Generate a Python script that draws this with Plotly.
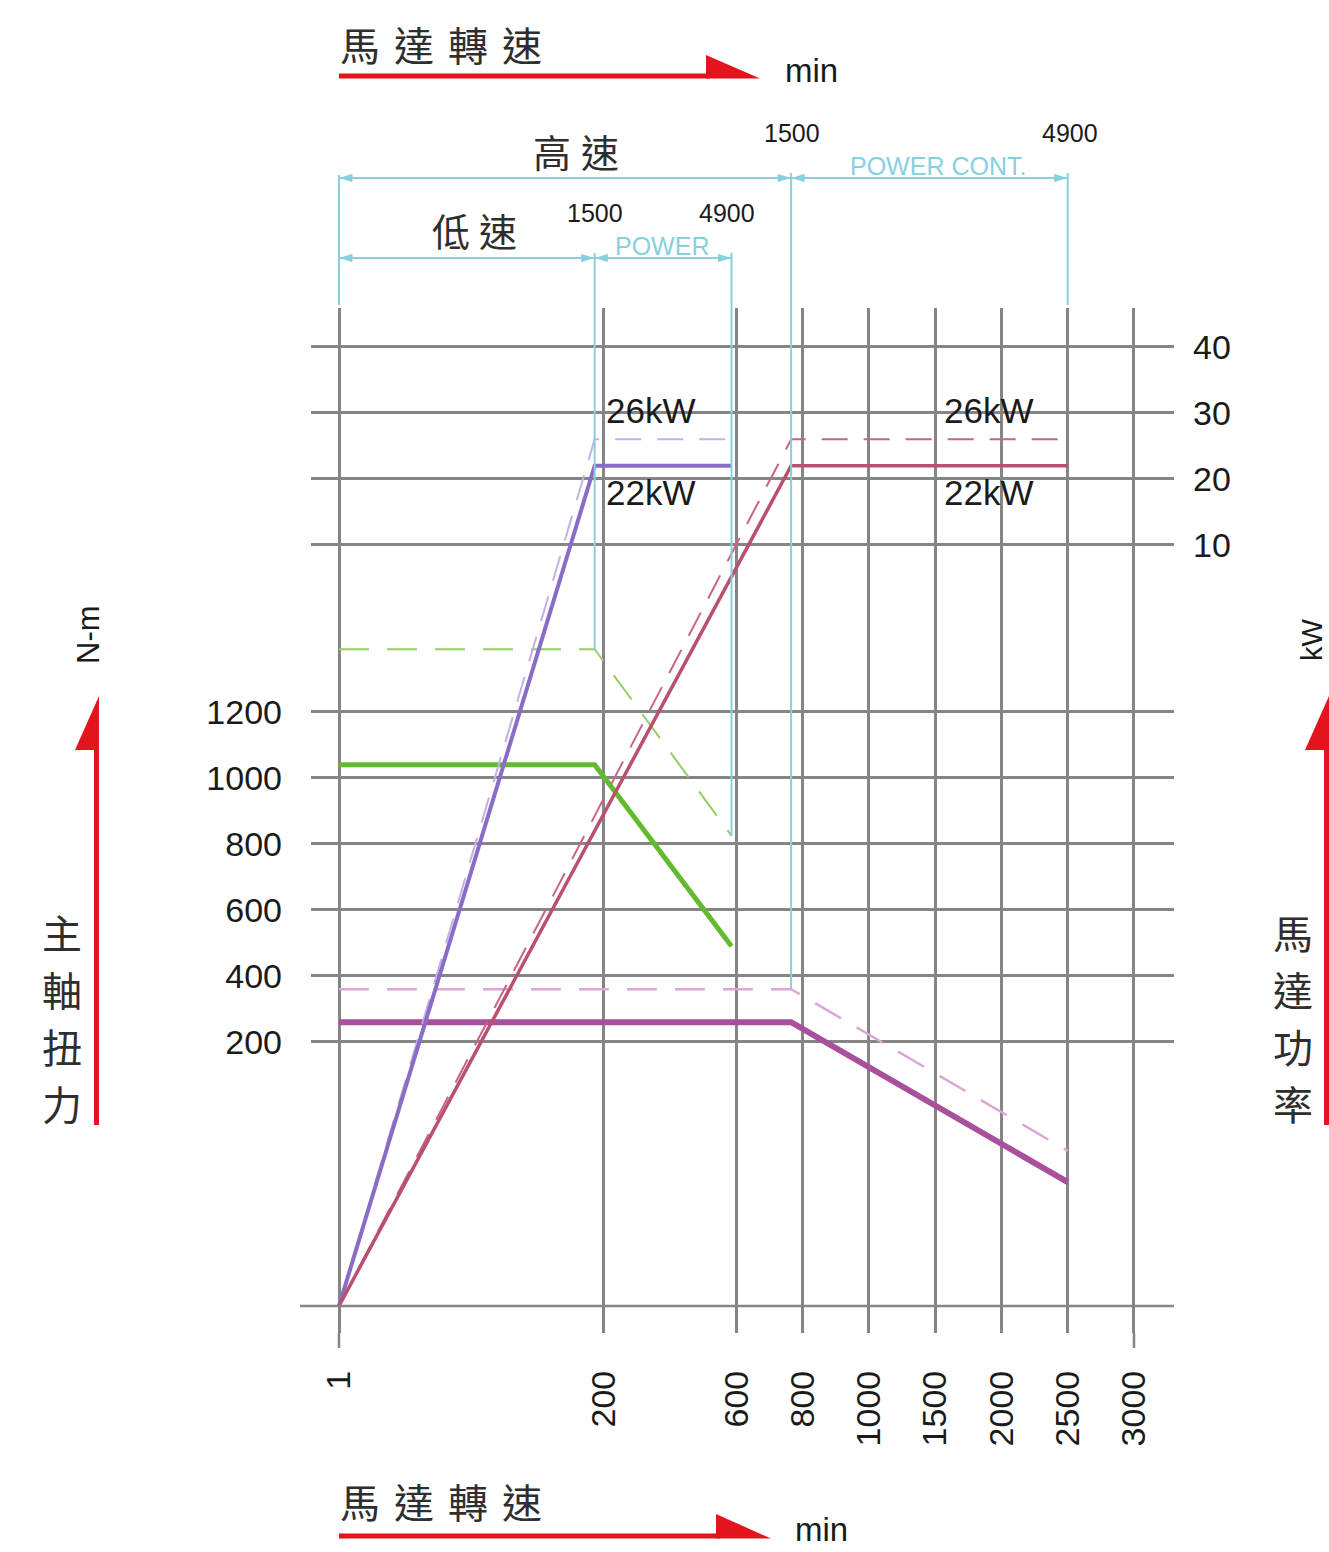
import numpy as np
import plotly.graph_objects as go

# ---------------- data ----------------
speed_tick_labels = ["1", "200", "600", "800", "1000", "1500", "2000", "2500", "3000"]
speed_tick_rpm = [1, 200, 600, 800, 1000, 1500, 2000, 2500, 3000]
speed_tick_slot = [0, 4, 6, 7, 8, 9, 10, 11, 12]          # equally spaced chart columns
torque_ticks = [200, 400, 600, 800, 1000, 1200]            # N-m (left)
power_ticks = [10, 20, 30, 40]                              # kW (right)

low_gear_rpm = [1, 193, 585]      # spindle rpm: start, base speed (motor 1500), max (motor 4900)
high_gear_rpm = [1, 765, 2500]

low_power_cont = [22, 22]         # kW beyond base speed
low_power_peak = [26, 26]
high_power_cont = [22, 22]
high_power_peak = [26, 26]

low_torque_cont = [1040, 1040, 490]     # N-m
low_torque_peak = [1390, 1390, 825]
high_torque_cont = [260, 260, -225]
high_torque_peak = [360, 360, -130]

motor_speed_labels = ["1500", "4900"]

# ---------------- scales ----------------
TORQUE_RANGE = [-682.0, 2424.0]
POWER_RANGE = [-109.4, 45.9]
TORQUE_BASELINE = -600.0          # level of the speed axis line
X_RANGE = [-0.4226, 12.604]


def slot(rpm):
    return np.interp(rpm, speed_tick_rpm, speed_tick_slot)


def torque_to_power(t):
    f = (t - TORQUE_RANGE[0]) / (TORQUE_RANGE[1] - TORQUE_RANGE[0])
    return POWER_RANGE[0] + f * (POWER_RANGE[1] - POWER_RANGE[0])


POWER_BASELINE = torque_to_power(TORQUE_BASELINE)

W, H = 1329, 1552
PL, PR, PT, PB = 311, 1174, 308, 1333


def px_x(p):
    return (p - PL) / (PR - PL)


def px_y(p):
    return (PB - p) / (PB - PT)


def slot_paper(s):
    return (s - X_RANGE[0]) / (X_RANGE[1] - X_RANGE[0])


def rpm_paper(r):
    return slot_paper(slot(r))


def torque_paper(t):
    return (t - TORQUE_RANGE[0]) / (TORQUE_RANGE[1] - TORQUE_RANGE[0])


GRID = "#858585"
CYAN = "#88cfe0"
RED = "#e3141e"
GREEN = "#62bb2e"
GREEN_D = "#93cf66"
PURPLE = "#8a6cc6"
PURPLE_D = "#c4b0e6"
CRIMSON = "#b9506e"
CRIMSON_D = "#c96482"
MAGENTA = "#a8509c"
MAGENTA_D = "#dba8d6"
TXT = "#1a1a1a"
LAT = "Liberation Sans, Arial, sans-serif"
CJK = "Noto Sans CJK TC"

fig = go.Figure()

# torque curves (left axis)
fig.add_trace(go.Scatter(x=slot(low_gear_rpm), y=low_torque_peak, mode="lines",
                         line=dict(color=GREEN_D, width=2, dash="30px,18px")))
fig.add_trace(go.Scatter(x=slot(low_gear_rpm), y=low_torque_cont, mode="lines",
                         line=dict(color=GREEN, width=5)))
fig.add_trace(go.Scatter(x=slot(high_gear_rpm), y=high_torque_peak, mode="lines",
                         line=dict(color=MAGENTA_D, width=2.5, dash="30px,18px")))
fig.add_trace(go.Scatter(x=slot(high_gear_rpm), y=high_torque_cont, mode="lines",
                         line=dict(color=MAGENTA, width=6)))
# power curves (right axis)
fig.add_trace(go.Scatter(x=slot(low_gear_rpm), y=[POWER_BASELINE] + low_power_peak, mode="lines",
                         yaxis="y2", line=dict(color=PURPLE_D, width=2, dash="26px,16px")))
fig.add_trace(go.Scatter(x=slot(low_gear_rpm), y=[POWER_BASELINE] + low_power_cont, mode="lines",
                         yaxis="y2", line=dict(color=PURPLE, width=4)))
fig.add_trace(go.Scatter(x=slot(high_gear_rpm), y=[POWER_BASELINE] + high_power_peak, mode="lines",
                         yaxis="y2", line=dict(color=CRIMSON_D, width=2, dash="26px,16px")))
fig.add_trace(go.Scatter(x=slot(high_gear_rpm), y=[POWER_BASELINE] + high_power_cont, mode="lines",
                         yaxis="y2", line=dict(color=CRIMSON, width=3.5)))

shapes = []
# speed axis line
yb = torque_paper(TORQUE_BASELINE)
shapes.append(dict(type="line", xref="paper", yref="paper", x0=px_x(300), x1=1, y0=yb, y1=yb,
                   line=dict(color=GRID, width=2.5)))
# longer end gridlines
for s in (speed_tick_slot[0], speed_tick_slot[-1]):
    shapes.append(dict(type="line", xref="paper", yref="paper", x0=slot_paper(s), x1=slot_paper(s),
                       y0=0, y1=px_y(1348), line=dict(color=GRID, width=2.5)))

# cyan dimension lines
xl = rpm_paper(low_gear_rpm[0])
xlb = rpm_paper(low_gear_rpm[1])
xlm = rpm_paper(low_gear_rpm[2])
xhb = rpm_paper(high_gear_rpm[1])
xhm = rpm_paper(high_gear_rpm[2])
verticals = [
    (xl, px_y(175), px_y(305)),
    (xlb, px_y(253), torque_paper(low_torque_peak[1])),
    (xlm, px_y(253), torque_paper(low_torque_peak[2])),
    (xhb, px_y(173), torque_paper(high_torque_peak[1])),
    (xhm, px_y(173), px_y(305)),
]
for x, y0, y1 in verticals:
    shapes.append(dict(type="line", xref="paper", yref="paper", x0=x, x1=x, y0=y0, y1=y1,
                       line=dict(color=CYAN, width=2)))

ppx = 1.0 / (PR - PL)
ppy = 1.0 / (PB - PT)


def dim_line(xa, xb, ypix):
    y = px_y(ypix)
    shapes.append(dict(type="line", xref="paper", yref="paper", x0=xa, x1=xb, y0=y, y1=y,
                       line=dict(color=CYAN, width=2)))
    L, Wd = 11 * ppx, 3.5 * ppy
    for tip, d in ((xa + 2 * ppx, 1), (xb - 2 * ppx, -1)):
        path = f"M {tip},{y} L {tip + d * L},{y + Wd} L {tip + d * L},{y - Wd} Z"
        shapes.append(dict(type="path", xref="paper", yref="paper", path=path,
                           fillcolor=CYAN, line=dict(color=CYAN, width=1)))


dim_line(xl, xhb, 178)
dim_line(xhb, xhm, 178)
dim_line(xl, xlb, 258)
dim_line(xlb, xlm, 258)


# red axis arrows
def poly(points):
    s = "M " + " L ".join(f"{px_x(a)},{px_y(b)}" for a, b in points) + " Z"
    return dict(type="path", xref="paper", yref="paper", path=s, fillcolor=RED,
                line=dict(color=RED, width=0))


def hline_px(x0, x1, y, w):
    return dict(type="line", xref="paper", yref="paper", x0=px_x(x0), x1=px_x(x1),
                y0=px_y(y), y1=px_y(y), line=dict(color=RED, width=w))


def vline_px(x, y0, y1, w):
    return dict(type="line", xref="paper", yref="paper", x0=px_x(x), x1=px_x(x),
                y0=px_y(y0), y1=px_y(y1), line=dict(color=RED, width=w))


shapes.append(hline_px(339, 710, 76, 5))
shapes.append(poly([(706, 55), (760, 78.5), (706, 78.5)]))
shapes.append(hline_px(339, 720, 1536, 5))
shapes.append(poly([(716, 1514), (771, 1538.5), (716, 1538.5)]))
shapes.append(vline_px(96.5, 745, 1125, 5))
shapes.append(poly([(99, 696), (99, 750), (75, 750)]))
shapes.append(vline_px(1326.5, 745, 1125, 5))
shapes.append(poly([(1329, 696), (1329, 750), (1305, 750)]))

annotations = []


def text(x, y, t, size, color=TXT, family=LAT, xanchor="center", angle=0):
    annotations.append(dict(x=px_x(x), y=px_y(y), xref="paper", yref="paper", text=t,
                            showarrow=False, xanchor=xanchor, yanchor="middle", textangle=angle,
                            font=dict(size=size, color=color, family=family)))


def cjk_row(chars, x0, pitch, y, size):
    for i, c in enumerate(chars):
        text(x0 + i * pitch, y, c, size, color="#2e2e2e", family=CJK)


def cjk_col(chars, x, y0, pitch, size):
    for i, c in enumerate(chars):
        text(x, y0 + i * pitch, c, size, color="#2e2e2e", family=CJK)


cjk_row("馬達轉速", 360, 54, 44, 40)
text(783, 70, "min", 33, xanchor="left")
cjk_row("馬達轉速", 360, 54, 1501, 40)
text(793, 1529, "min", 33, xanchor="left")
cjk_row("高速", 552, 48, 150, 38)
cjk_row("低速", 451, 47, 230, 38)
cjk_col("主軸扭力", 62, 932, 57, 40)
cjk_col("馬達功率", 1293, 932, 57, 40)
text(88, 635, "N-m", 31, angle=-90)
text(1312, 640, "kW", 29, angle=-90)

text(595, 213, motor_speed_labels[0], 25)
text(727, 213, motor_speed_labels[1], 25)
text(792, 133, motor_speed_labels[0], 25)
text(1070, 133, motor_speed_labels[1], 25)
text(662, 246, "POWER", 25, color=CYAN)
text(938, 166, "POWER CONT.", 25, color=CYAN)

text(604, 410, f"{low_power_peak[0]}kW", 35, xanchor="left")
text(604, 492, f"{low_power_cont[0]}kW", 35, xanchor="left")
text(942, 410, f"{high_power_peak[0]}kW", 35, xanchor="left")
text(942, 492, f"{high_power_cont[0]}kW", 35, xanchor="left")

fig.update_layout(
    width=W, height=H,
    margin=dict(l=PL, r=W - PR, t=PT, b=H - PB, pad=0),
    paper_bgcolor="white", plot_bgcolor="white",
    showlegend=False,
    xaxis=dict(range=X_RANGE, tickmode="array", tickvals=speed_tick_slot, ticktext=speed_tick_labels,
               tickangle=-90, showgrid=True, gridcolor=GRID, gridwidth=2.5, zeroline=False,
               showline=False, ticks="", ticklabelstandoff=30,
               tickfont=dict(size=34, color=TXT, family=LAT)),
    yaxis=dict(range=TORQUE_RANGE, tickmode="array", tickvals=torque_ticks,
               showgrid=True, gridcolor=GRID, gridwidth=2.5, zeroline=False, showline=False,
               ticks="", ticklabelstandoff=28, tickfont=dict(size=34, color=TXT, family=LAT)),
    yaxis2=dict(range=POWER_RANGE, overlaying="y", side="right", tickmode="array",
                tickvals=power_ticks, showgrid=True, gridcolor=GRID, gridwidth=2.5,
                zeroline=False, showline=False, ticks="", ticklabelstandoff=18,
                tickfont=dict(size=34, color=TXT, family=LAT)),
    shapes=shapes,
    annotations=annotations,
)

fig.write_html("out.html", config={"displayModeBar": False},
               post_script="document.body.style.margin='0px';")
